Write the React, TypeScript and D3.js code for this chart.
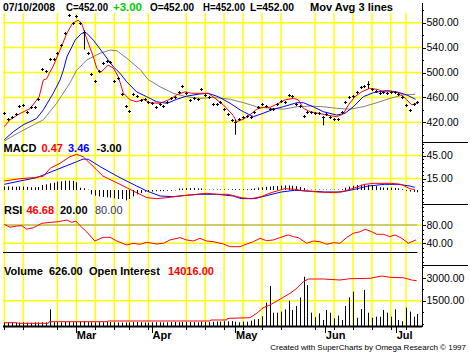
import React from "react";
import * as d3 from "d3";

// daily closes, Feb 4 .. Jul 10 2008
const closes = [
  435, 426, 429, 433, 446, 448, 437, 444, 445, 457,
  505, 502, 521, 521, 531, 544, 563, 592, 579, 590,
  580, 565, 532, 498, 486, 502, 515, 518, 517, 487,
  491, 465, 446, 438, 465, 463, 456, 457, 453, 451,
  445, 450, 446, 453, 459, 460, 469, 478, 467, 456,
  459, 458, 474, 464, 460, 449, 449, 453, 442, 434,
  424, 421, 426, 428, 430, 428, 437, 445, 449, 446,
  442, 441, 450, 454, 453, 464, 462, 450, 446, 430,
  437, 437, 435, 435, 428, 434, 429, 426, 426, 437,
  453, 461, 462, 469, 477, 478, 482, 473, 471, 467,
  469, 467, 469, 469, 465, 460, 448, 440, 449, 452,
];

// bars that show a visible high-low range
const barRanges = [
  { i: 21, hi: 568, lo: 537 },
  { i: 61, hi: 424, lo: 400 },
  { i: 84, hi: 428, lo: 415 },
  { i: 96, hi: 486, lo: 474 },
];

// moving averages, [bar index, value]
const fastMA: [number, number][] = [
  [0, 413], [1.5, 424], [4.1, 434], [6.8, 442], [9.2, 461], [10.3, 488], [11.2, 490],
  [11.9, 499], [12.9, 510], [14.7, 536], [16.5, 563], [18, 579], [19.5, 584], [20.4, 579],
  [21.7, 555], [23.5, 525], [24.4, 507], [25.3, 500], [26.1, 504], [27.4, 512], [28.8, 507],
  [30.1, 493], [31.4, 467], [33.2, 456], [34.9, 453], [36.7, 457], [38.4, 451.5], [41.1, 450.5],
  [43.7, 457], [45.5, 464], [47.7, 469], [49.4, 466.6], [51.6, 466.6], [53.8, 466.6],
  [55.6, 458.5], [57.8, 448], [60.4, 431], [61.3, 421], [63.1, 425], [64.8, 432], [66.6, 441],
  [68.3, 444], [70.1, 444], [71.9, 449], [74.1, 456], [76.3, 458.5], [77.6, 456], [78.9, 442.5],
  [80.7, 437], [82.9, 434.5], [85.1, 431.6], [87.7, 429], [89.4, 433], [90.8, 448], [92.5, 461],
  [94.3, 469], [96.4, 474.6], [98.3, 473], [100.4, 469], [102.6, 469], [104.4, 466.6],
  [106.2, 456], [107.5, 448], [108.8, 450.5],
];
const midMA: [number, number][] = [
  [0, 392], [2.4, 405], [5, 416], [8.5, 426], [10.3, 440], [12.9, 466.6], [14.7, 488],
  [15.6, 504], [16.5, 525], [18.7, 552], [20.4, 563], [21.6, 564], [23.5, 552], [26.1, 531],
  [28.8, 509], [30.5, 499], [32.3, 485], [34.9, 469], [37.6, 461], [40.2, 453], [42.9, 450.5],
  [45.5, 457], [48.1, 462], [51.6, 465.5], [53.8, 466.6], [56.5, 461], [59.6, 450.5], [62.2, 440],
  [63.1, 437], [65.7, 429], [68.3, 434.5], [71, 441], [73.6, 445], [77.2, 451.5], [78.9, 451.5],
  [81.5, 445], [84.2, 437], [87.7, 431.6], [89.9, 434.5], [92.1, 445], [94.7, 461], [97.4, 467.6],
  [100.9, 471], [103.5, 469], [106.2, 464], [108.5, 457],
];
const slowMA: [number, number][] = [
  [0, 390], [3.4, 402], [6.8, 413], [10.3, 424], [13.8, 450.5], [17.3, 483], [19.1, 504],
  [20, 509], [21.7, 520], [25.3, 531], [27.9, 536], [29.7, 535], [32.3, 523], [35.8, 505],
  [37.9, 489], [41.1, 477], [44.6, 466.6], [48.1, 461], [51.6, 458.5], [55.1, 460], [59.6, 457],
  [63.1, 451.5], [66.6, 445], [70.1, 442.5], [73.6, 441], [77.2, 445], [80.7, 446], [84.2, 445],
  [87.7, 442.5], [91.2, 441], [94.7, 445], [98.3, 451.5], [101.8, 458.5], [105.3, 464], [108.4, 465],
];

// MACD and its signal, [bar index, value]
const macdLine: [number, number][] = [
  [0, 11.7], [4.1, 14.7], [7.7, 16.1], [10.3, 17.9], [12.1, 28.3], [14.7, 34.8], [17.3, 43.4],
  [19.1, 46.5], [20.8, 43.4], [22.6, 34.8], [24.4, 26.1], [26, 18.3], [30.5, 7.4], [34, -1.3],
  [37.6, -10], [40.2, -11.3], [42.9, -10], [46.4, -7.8], [50.8, -5.6], [53.4, -4.3], [56, -5.6],
  [59, -5.6], [62.5, -10], [65.2, -11.3], [67.8, -8.7], [70.4, -3.5], [74, 1.7], [76.6, 0.9],
  [79.3, -1.3], [82.8, -2.6], [87.2, -3.5], [89.8, -1.3], [92.5, 3], [95.1, 7.4], [97.7, 8.7],
  [102.1, 8.7], [104.7, 7.4], [107, 1.7], [108.3, 0.5],
];
const signalLine: [number, number][] = [
  [0, 7.4], [4.1, 11.7], [8.5, 16], [14.7, 28.3], [19.1, 36.9], [20.8, 40.4], [22.2, 40],
  [25.3, 30.4], [30, 17.5], [34.9, 5.2], [37.6, -1.3], [41.1, -7.8], [44.6, -8.7], [48.1, -6.9],
  [51.6, -5.6], [56, -5.6], [60.4, -7.8], [62.5, -11.3], [66.1, -11.3], [69.6, -6.9], [73.1, -2.6],
  [76.6, -0.4], [80.1, -1.3], [84.5, -2.6], [88.9, -2.6], [92.5, 0.9], [96, 5.2], [100.4, 7.4],
  [103.9, 7.4], [107, 5.2], [108.3, 3.5],
];
const macdHist = [
  4.5, 4.8, 4.5, 4.2, 4.5, 4.5, 4, 3.5, 3.5, 4,
  6.5, 7.4, 8.7, 9.6, 10.9, 11.3, 12.2, 12.2, 11.7, 10,
  3, 2.2, 0.5, -5.7, -7.4, -8.3, -9.1, -9.6, -10, -10.9,
  -11.7, -11.7, -13.5, -11.7, -8.3, -5.7, -3.9, -2.2, -2, -2,
  -1.5, -1.5, -1.5, -1, -1, -0.5, 2, 2, 2.5, 2.5,
  2.5, 2, 2, 0.5, 0.5, 0.5, 0.5, 0.8, 0.8, 0.8,
  1, 1, 1, 1, 1, 1.5, 2, 3, 3.5, 4,
  4.5, 5, 5, 5.5, 6, 6, 5.5, 5, 4, 2.5,
  0.5, 0.5, 0.5, 0.5, 0.5, 0.5, 0.5, 0.5, 0.5, 1,
  3, 4.5, 5.5, 6.5, 7, 7, 6.5, 6, 5, 3.5,
  3, 3, 3, 2.5, 2, 1, -1, -2, -2.5, -3,
];

// RSI, [bar index, value]
const rsiLine: [number, number][] = [
  [0, 81.5], [1.5, 75], [3.3, 77.7], [4.6, 78.4], [5.9, 71], [7.7, 74], [9.9, 83.7], [12.1, 85.8],
  [14.2, 87.2], [16.5, 90.9], [17.8, 85.8], [18.9, 88.7], [20, 78.4], [21.7, 65.3], [23.9, 45],
  [26.1, 53], [27.9, 53], [29.7, 45], [32.3, 36.3], [34, 40], [35.8, 37.8], [37.6, 42.2],
  [40.2, 38.5], [42, 40], [43.7, 47.3], [46.4, 52.4], [48.1, 47.3], [49.9, 45], [51.6, 50.9],
  [53.4, 45], [55.1, 43.5], [57.8, 38.5], [59.6, 32.5], [62.2, 32.6], [64, 38.5], [65.7, 43.5],
  [67.5, 50.9], [69.2, 45.7], [71, 47.3], [72.7, 52.4], [74.9, 58.3], [76.3, 54.6], [77.6, 52.4],
  [79.8, 40], [81.5, 45], [83.3, 43.5], [85.1, 37.8], [86.8, 41.3], [88.6, 40], [90.3, 52.4],
  [92.1, 62], [93.9, 65.3], [95.2, 70.6], [96.5, 66.9], [98.3, 59.7], [100, 59.7], [101.8, 54.6],
  [103.1, 58.3], [104.9, 50.9], [106.6, 40], [107.5, 43.5], [108.6, 47.3],
];

const volume = [
  60, 50, 40, 60, 50, 80, 60, 50, 70, 60,
  80, 70, 930, 80, 90, 70, 100, 90, 80, 100,
  120, 165, 90, 80, 70, 90, 80, 100, 90, 80,
  70, 60, 80, 70, 90, 100, 80, 70, 60, 80,
  90, 80, 70, 80, 90, 100, 80, 90, 110, 100,
  90, 80, 120, 100, 90, 110, 130, 120, 150, 140,
  165, 120, 80, 120, 120, 185, 275, 300, 470, 1370,
  2470, 710, 710, 780, 930, 1500, 890, 1150, 1720, 3080,
  2530, 710, 410, 670, 230, 890, 710, 340, 515, 230,
  1150, 1720, 2090, 380, 950, 2200, 710, 380, 450, 450,
  890, 710, 450, 930, 230, 150, 1040, 780, 450, 626,
];

// open interest, [bar index, value]
const openInterest: [number, number][] = [
  [0, 260], [3.3, 260], [3.7, 65], [11.6, 65], [11.9, 590], [27.1, 590], [27.4, 820],
  [54.3, 820], [54.5, 1150], [58.7, 1150], [58.8, 1570], [59.6, 1700], [64.8, 1900],
  [66.6, 3340], [68.3, 5170], [70.1, 6060], [72.7, 7920], [75.4, 9890], [77.2, 11530],
  [78.9, 13690], [80.2, 14570], [84.2, 14570], [88.6, 14240], [91.2, 14680], [96.5, 14800],
  [99.6, 15550], [101.8, 15130], [105.3, 15000], [107.5, 14240], [108.8, 14016],
];

const weekGrid = [0, 5, 14, 19, 24, 29, 33, 38, 48, 53, 58, 63, 68, 73, 82, 87, 92, 97, 102, 106];
const months = [
  { label: "Mar", i: 19 },
  { label: "Apr", i: 39 },
  { label: "May", i: 61 },
  { label: "Jun", i: 84.7 },
  { label: "Jul", i: 103.4 },
];

const priceLabels = [580, 540, 500, 460, 420];
const macdLabels = [45, 15];
const rsiLabels = [80, 40];
const volLabels = [3000, 1500];

// header pieces: text, colour, left edge, width
const header = [
  { t: "07/10/2008", c: "#000", x: 3, w: 52 },
  { t: "C=452.00", c: "#000", x: 66, w: 42 },
  { t: "+3.00", c: "#00cc00", x: 113, w: 29 },
  { t: "O=452.00", c: "#000", x: 150, w: 44 },
  { t: "H=452.00", c: "#000", x: 203, w: 42 },
  { t: "L=452.00", c: "#000", x: 250, w: 44 },
  { t: "Mov Avg 3 lines", c: "#000", x: 310, w: 83 },
];

const FONT = "'Liberation Sans', Arial, Helvetica, sans-serif";
const LEFT = 3;
const AXIS = 422;

export default function App() {
  const x = d3.scaleLinear().domain([0, closes.length - 1]).range([4.3, 417.4]);
  const priceY = d3.scaleLinear().domain([420, 580]).range([122.3, 22.7]);
  const macdY = d3.scaleLinear().domain([0, 45]).range([190, 155.5]);
  const rsiY = d3.scaleLinear().domain([40, 80]).range([243.3, 225]);
  const volY = d3.scaleLinear().domain([0, 3000]).range([323.5, 277.9]);
  const oiY = d3.scaleLinear().domain([0, 14016]).range([323.5, 280.7]);

  const mk = (y: d3.ScaleLinear<number, number>) =>
    d3.line<[number, number]>().x((d) => x(d[0])).y((d) => y(d[1]));

  const px = (v: number) => Math.round(v) + 0.5;

  const yellow = "#ffff00";

  const hGrid = [
    ...priceLabels.map((v) => priceY(v)),
    ...macdLabels.map((v) => macdY(v)),
    ...rsiLabels.map((v) => rsiY(v)),
    volY(1500),
  ];

  const axisBlock = (
    scale: d3.ScaleLinear<number, number>,
    labels: number[],
    minor: number[],
  ) => (
    <g>
      {minor.map((v, k) => (
        <line key={"m" + k} x1={AXIS} x2={AXIS + 2} y1={px(scale(v))} y2={px(scale(v))} stroke="#000" />
      ))}
      {labels.map((v) => (
        <g key={v}>
          <line x1={AXIS} x2={AXIS + 4} y1={px(scale(v))} y2={px(scale(v))} stroke="#000" />
          <text x={AXIS + 4.5} y={scale(v)} dy="0.36em" fontSize={10.5} fill="#000">
            {v.toFixed(2)}
          </text>
        </g>
      ))}
    </g>
  );

  return (
    <div style={{ position: "absolute", left: 0, top: 0 }}>
      <svg width={470} height={358} style={{ display: "block", background: "#fff" }} fontFamily={FONT}>
        <defs>
          <clipPath id="pricePanel">
            <rect x={LEFT} y={13} width={AXIS - LEFT} height={129} />
          </clipPath>
          <clipPath id="macdPanel">
            <rect x={LEFT} y={142} width={AXIS - LEFT} height={62} />
          </clipPath>
        </defs>

        {/* grid */}
        {hGrid.map((y, k) => (
          <line key={"h" + k} x1={LEFT} x2={AXIS} y1={y} y2={y} stroke={yellow} strokeWidth={1.5} />
        ))}
        {weekGrid.map((i) => (
          <line key={"v" + i} x1={x(i)} x2={x(i)} y1={13} y2={326} stroke={yellow} strokeWidth={1.5} />
        ))}

        {/* price panel */}
        <g clipPath="url(#pricePanel)" fill="none" strokeWidth={1}>
          <path d={mk(priceY)(slowMA) ?? ""} stroke="#808080" />
          <path d={mk(priceY)(midMA) ?? ""} stroke="#0000ff" />
          <path d={mk(priceY)(fastMA) ?? ""} stroke="#ff0000" />
        </g>
        <g stroke="#000" strokeWidth={1}>
          {closes.map((c, i) => {
            const cx = px(x(i));
            const cy = px(priceY(c));
            return (
              <g key={i}>
                <line x1={cx - 1.5} x2={cx + 1.5} y1={cy} y2={cy} />
                <line x1={cx} x2={cx} y1={cy - 1.5} y2={cy + 1.5} />
              </g>
            );
          })}
          {barRanges.map((b) => (
            <line key={b.i} x1={px(x(b.i))} x2={px(x(b.i))} y1={priceY(b.hi)} y2={priceY(b.lo)} />
          ))}
        </g>

        {/* MACD panel */}
        <g stroke="#000" strokeWidth={1}>
          {macdHist.map((h, i) => (
            <line key={i} x1={px(x(i))} x2={px(x(i))} y1={macdY(0)} y2={macdY(h)} />
          ))}
        </g>
        <g clipPath="url(#macdPanel)" fill="none" strokeWidth={1}>
          <path d={mk(macdY)(signalLine) ?? ""} stroke="#0000ff" />
          <path d={mk(macdY)(macdLine) ?? ""} stroke="#ff0000" />
        </g>

        {/* RSI panel */}
        <line x1={x(0)} x2={x(closes.length - 1)} y1={rsiY(80)} y2={rsiY(80)} stroke="#999999" />
        <line x1={LEFT} x2={x(closes.length - 1)} y1={px(rsiY(20))} y2={px(rsiY(20))} stroke="#000" />
        <path d={mk(rsiY)(rsiLine) ?? ""} fill="none" stroke="#ff0000" />

        {/* Volume panel */}
        <g stroke="#000" strokeWidth={1}>
          {volume.map((v, i) => (
            <line key={i} x1={px(x(i))} x2={px(x(i))} y1={326} y2={volY(v)} />
          ))}
        </g>
        <path d={mk(oiY)(openInterest) ?? ""} fill="none" stroke="#ff0000" />

        {/* bottom axis */}
        <line x1={LEFT} x2={AXIS} y1={326.5} y2={326.5} stroke="#000" strokeWidth={2} />
        {weekGrid.map((i) => (
          <line key={"t" + i} x1={px(x(i))} x2={px(x(i))} y1={327} y2={330} stroke="#000" />
        ))}
        {months.map((m) => (
          <g key={m.label}>
            <line x1={px(x(m.i))} x2={px(x(m.i))} y1={327} y2={333} stroke="#000" />
            <text x={x(m.i) + 0.5} y={339} fontSize={11} fontWeight="bold" fill="#000">
              {m.label}
            </text>
          </g>
        ))}

        {/* right axis */}
        <line x1={AXIS + 0.5} x2={AXIS + 0.5} y1={3} y2={327} stroke="#000" />
        {[142, 204, 265].map((y) => (
          <line key={y} x1={AXIS} x2={468} y1={y + 0.5} y2={y + 0.5} stroke="#000" />
        ))}
        {axisBlock(priceY, priceLabels, d3.range(400, 601, 20))}
        {axisBlock(macdY, macdLabels, d3.range(-15, 61, 5))}
        {axisBlock(rsiY, rsiLabels, d3.range(0, 121, 10))}
        {axisBlock(volY, volLabels, d3.range(0, 3751, 750))}

        {/* legends */}
        <g fontSize={11} fontWeight="bold" fill="#000">
          {header.map((h) => (
            <text key={h.t} x={h.x} y={11} fill={h.c} textLength={h.w} lengthAdjust="spacingAndGlyphs">
              {h.t}
            </text>
          ))}

          <text x={3.5} y={152}>MACD</text>
          <text x={41.5} y={152} fill="#ff0000">0.47</text>
          <text x={68} y={152} fill="#0000ff">3.46</text>
          <text x={96.5} y={152}>-3.00</text>

          <text x={4} y={213.5}>RSI</text>
          <text x={26.5} y={213.5} fill="#ff0000">46.68</text>
          <text x={60} y={213.5}>20.00</text>
          <text x={95} y={213.5} fill="#333366" fontWeight="normal">80.00</text>

          <text x={4} y={275}>Volume</text>
          <text x={49} y={275}>626.00</text>
          <text x={89} y={275}>Open Interest</text>
          <text x={168} y={275} fill="#ff0000">14016.00</text>
        </g>

        <text x={466} y={350} fontSize={8} textAnchor="end" fill="#000">
          Created with SuperCharts by Omega Research © 1997
        </text>
      </svg>
    </div>
  );
}
